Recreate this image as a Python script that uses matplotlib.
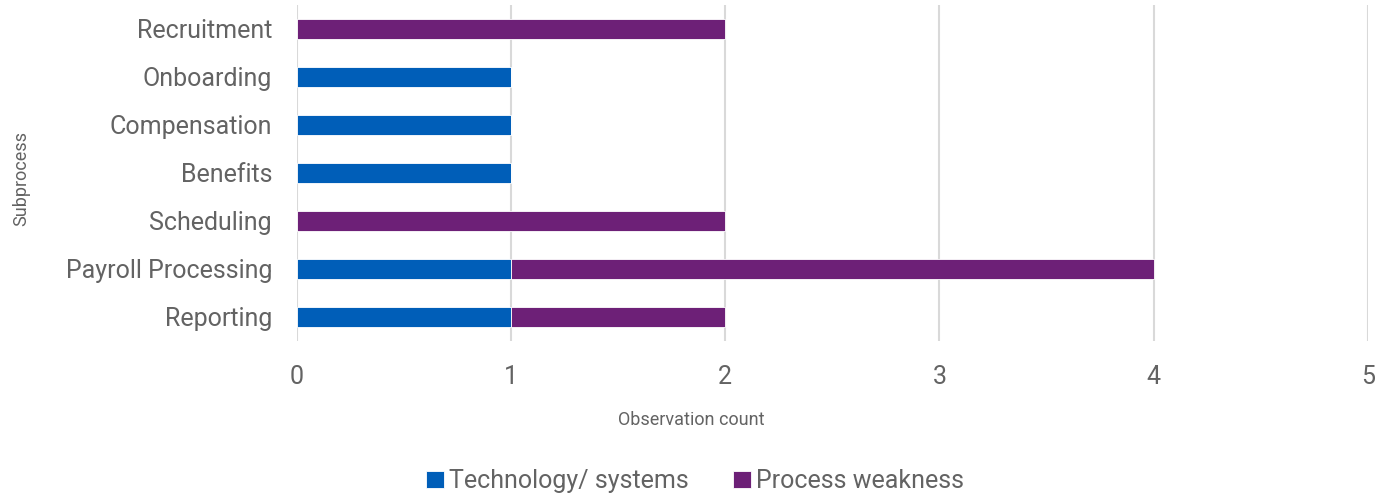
import matplotlib.pyplot as plt

categories = ['Recruitment', 'Onboarding', 'Compensation', 'Benefits',
              'Scheduling', 'Payroll Processing', 'Reporting']
technology = [0, 1, 1, 1, 0, 1, 1]
process = [2, 0, 0, 0, 2, 3, 1]

BLUE = '#005EB8'
PURPLE = '#6D2077'
TEXT = '#636363'

plt.rcParams['font.family'] = ['Roboto', 'DejaVu Sans']

fig = plt.figure(figsize=(13.9, 4.97), dpi=100)
ax = fig.add_axes([0.2137, 0.314, 0.7703, 0.676])

y = list(range(len(categories)))
ax.barh(y, technology, height=0.4, color=BLUE, edgecolor='white', linewidth=0.6,
        label='Technology/ systems', zorder=3)
ax.barh(y, process, left=technology, height=0.4, color=PURPLE, edgecolor='white',
        linewidth=0.6, label='Process weakness', zorder=3)

ax.set_yticks(y)
ax.set_yticklabels(categories)
ax.set_ylim(len(categories) - 0.5, -0.5)
ax.set_xlim(0, 5)
ax.set_xticks(range(6))

for s in ax.spines.values():
    s.set_visible(False)
ax.tick_params(length=0, labelsize=18, colors=TEXT)
ax.tick_params(axis='x', pad=17)
ax.tick_params(axis='y', pad=18)
ax.grid(axis='x', color='#D9D9D9', linewidth=1.5, zorder=0)
ax.set_axisbelow(True)

fig.text(0.497, 0.155, 'Observation count', fontsize=13, color=TEXT,
         ha='center', va='center')
fig.text(0.015, 0.64, 'Subprocess', fontsize=13, color=TEXT, rotation=90,
         ha='center', va='center')

leg = fig.legend(loc='center', bbox_to_anchor=(0.5, 0.032), ncol=2, frameon=False,
                 fontsize=18, handlelength=0.7, handleheight=0.7, handletextpad=0.2,
                 columnspacing=1.8)
for t in leg.get_texts():
    t.set_color(TEXT)

fig.savefig('out.png', dpi=100)
